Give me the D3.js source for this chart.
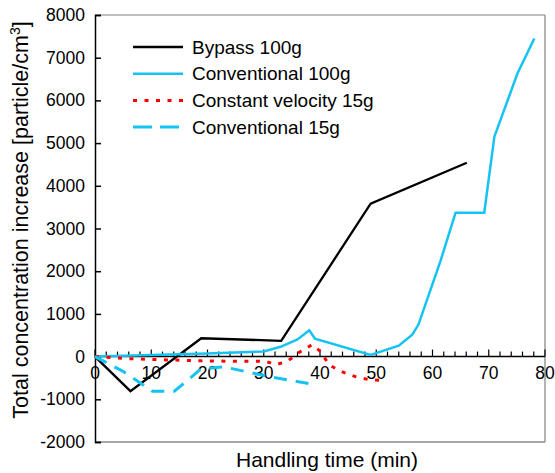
<!DOCTYPE html>
<html>
<head>
<meta charset="utf-8">
<script src="https://cdn.jsdelivr.net/npm/d3@7"></script>
<style>
    body { margin: 0; background: #fff; }
    text { font-family: "Liberation Sans", Arial, sans-serif; fill: #000; }
</style>
</head>
<body>
<svg id="chart" width="555" height="473" viewBox="0 0 555 473"></svg>
<script>
// Handling time (min) and concentration increase (particle/cm3) per series
const bypass_100_time = [0, 6.3, 18.9, 33.1, 49, 66.1];
const bypass_100_value = [0, -810, 430, 370, 3580, 4540];

const conv_100_time = [0, 10, 20, 30, 33, 36, 38.1, 39.1, 49, 54, 56.4, 57.5, 61.4, 64.1, 69.2, 71, 75.1, 78.1];
const conv_100_value = [0, 40, 70, 120, 230, 400, 615, 420, 40, 257, 515, 750, 2230, 3370, 3370, 5150, 6630, 7450];

const const_15_time = [0, 6, 18.8, 25.9, 30.3, 32.1, 34.2, 36.2, 38.6, 40.1, 41.6, 43.6, 46.3, 48.7, 51];
const const_15_value = [0, -50, -100, -110, -110, -190, -110, 90, 280, 120, -190, -340, -470, -540, -560];

const conv_15_time = [0, 4.9, 10.2, 14.1, 16.5, 18.8, 22.9, 30.6, 38.9];
const conv_15_value = [0, -340, -810, -810, -550, -290, -240, -460, -650];

const series_names = ["Bypass 100g", "Conventional 100g", "Constant velocity 15g", "Conventional 15g"];

const x_ticks = [0, 10, 20, 30, 40, 50, 60, 70, 80];
const y_ticks = [-2000, -1000, 0, 1000, 2000, 3000, 4000, 5000, 6000, 7000, 8000];

const svg = d3.select("#chart");
const plot_left = 95, plot_right = 545, plot_top = 15, plot_bottom = 442;

const x = d3.scaleLinear().domain([0, 80]).range([plot_left, plot_right]);
const y = d3.scaleLinear().domain([-2000, 8000]).range([plot_bottom, plot_top]);

const cyan = "#14c3f2";
const styles = [
    { color: "#000", width: 2.3, dash: null },
    { color: cyan, width: 2.5, dash: null },
    { color: "#ff0000", width: 3, dash: "4,7.5" },
    { color: cyan, width: 3, dash: "13,9" }
];

const series = [
    d3.zip(bypass_100_time, bypass_100_value),
    d3.zip(conv_100_time, conv_100_value),
    d3.zip(const_15_time, const_15_value),
    d3.zip(conv_15_time, conv_15_value)
];

// Frame: grey top, right and bottom, black left axis
const frame = svg.append("g");
frame.append("line").attr("x1", plot_left).attr("x2", plot_right).attr("y1", plot_top).attr("y2", plot_top)
    .attr("stroke", "#aaa").attr("stroke-width", 1.5);
frame.append("line").attr("x1", plot_right).attr("x2", plot_right).attr("y1", plot_top).attr("y2", plot_bottom)
    .attr("stroke", "#999").attr("stroke-width", 1.5);
frame.append("line").attr("x1", plot_left).attr("x2", plot_right).attr("y1", plot_bottom).attr("y2", plot_bottom)
    .attr("stroke", "#888").attr("stroke-width", 1.5);

// Y axis with inward ticks
const y_axis = svg.append("g")
    .attr("transform", `translate(${plot_left},0)`)
    .call(d3.axisRight(y).tickValues(y_ticks).tickSize(6).tickFormat(""));
y_axis.select(".domain").attr("stroke", "#000").attr("stroke-width", 1.5);
y_axis.selectAll(".tick line").attr("stroke", "#000").attr("stroke-width", 1.5);

svg.append("g").selectAll("text")
    .data(y_ticks)
    .enter()
    .append("text")
    .attr("x", plot_left - 10)
    .attr("y", d => y(d) + 6)
    .attr("text-anchor", "end")
    .style("font-size", "17.5px")
    .text(d => d);

// X axis sitting at zero, minor ticks every 2 min
const x_axis = svg.append("g")
    .attr("transform", `translate(0,${y(0)})`);
x_axis.append("line")
    .attr("x1", plot_left).attr("x2", plot_right)
    .attr("stroke", "#000").attr("stroke-width", 1.5);
x_axis.selectAll(".minor")
    .data(d3.range(0, 81, 2))
    .enter()
    .append("line")
    .attr("x1", d => x(d)).attr("x2", d => x(d))
    .attr("y1", 0)
    .attr("y2", d => d % 10 === 0 ? -7 : -5)
    .attr("stroke", "#000").attr("stroke-width", 1.2);
x_axis.selectAll(".label")
    .data(x_ticks)
    .enter()
    .append("text")
    .attr("x", d => x(d))
    .attr("y", 22)
    .attr("text-anchor", "middle")
    .style("font-size", "17.5px")
    .text(d => d);

// Lines
const line = d3.line().x(d => x(d[0])).y(d => y(d[1]));
svg.append("g").selectAll("path")
    .data(series)
    .enter()
    .append("path")
    .attr("d", line)
    .attr("fill", "none")
    .attr("stroke", (d, i) => styles[i].color)
    .attr("stroke-width", (d, i) => styles[i].width)
    .attr("stroke-dasharray", (d, i) => styles[i].dash)
    .attr("stroke-linejoin", "miter");

// Legend
const legend = svg.append("g").selectAll("g")
    .data(series_names)
    .enter()
    .append("g")
    .attr("transform", (d, i) => `translate(133,${47 + i * 26.7})`);
legend.append("line")
    .attr("x1", 0).attr("x2", 50)
    .attr("stroke", (d, i) => styles[i].color)
    .attr("stroke-width", (d, i) => styles[i].width)
    .attr("stroke-dasharray", (d, i) => i === 3 ? "19,8" : styles[i].dash);
legend.append("text")
    .attr("x", 59)
    .attr("y", 6.5)
    .style("font-size", "19px")
    .text(d => d);

// Axis titles
svg.append("text")
    .attr("x", (plot_left + plot_right) / 2 + 7)
    .attr("y", 467)
    .attr("text-anchor", "middle")
    .style("font-size", "21px")
    .text("Handling time (min)");

const y_title = svg.append("text")
    .attr("transform", "translate(28,220) rotate(-90)")
    .attr("text-anchor", "middle")
    .style("font-size", "21.5px");
y_title.append("tspan").text("Total concentration increase [particle/cm");
y_title.append("tspan").attr("dy", -8).style("font-size", "14px").text("3");
y_title.append("tspan").attr("dy", 8).text("]");
</script>
</body>
</html>
